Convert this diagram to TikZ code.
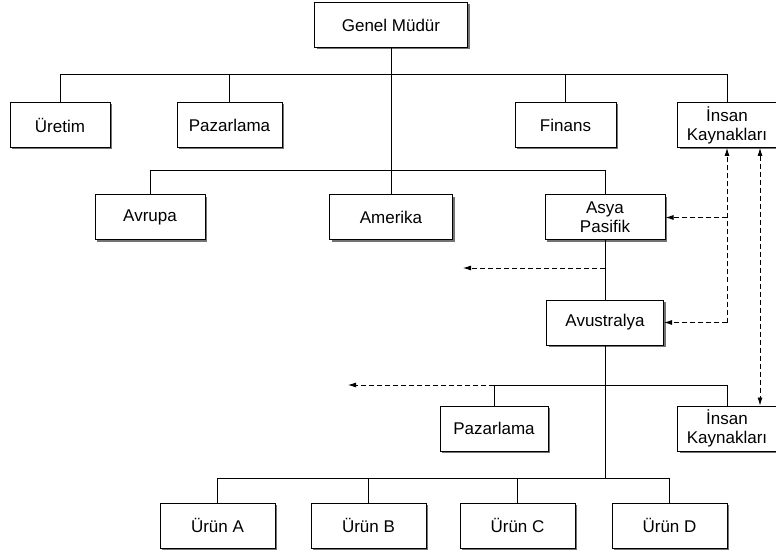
\documentclass[tikz,border=0pt]{standalone}
\usepackage{fontspec}
\setmainfont{Liberation Sans}
\usetikzlibrary{arrows.meta,shadows}

\begin{document}
\begin{tikzpicture}[x=1pt,y=-1pt,
    box/.style={draw,line width=1pt,fill=white,minimum height=45pt,inner sep=2pt,
      align=center,font=\fontsize{17}{19}\selectfont,
      drop shadow={shadow xshift=2pt,shadow yshift=-2pt,fill=black!55,opacity=1}},
    dsh/.style={line width=0.8pt,dash pattern=on 5pt off 3pt},
    tip/.style={arrows={-Latex[length=8pt,width=5pt]}}]
  \useasboundingbox (0,0) rectangle (776,553);
  % top level
  \node[box,minimum width=153pt] (gm) at (391,25) {Genel Müdür};
  \foreach \n/\t/\x/\w in {uret/Üretim/60/100,paz/Pazarlama/229.5/105,fin/Finans/565.5/101} {
      \node[box,minimum width=\w pt] (\n) at (\x,125) {\t};
    }
  \node[box,minimum width=99pt] (ik) at (727,125) {İnsan\\Kaynakları};
  % regions
  \node[box,minimum width=110pt] (avr) at (150,217.5) {Avrupa};
  \node[box,minimum width=123pt] (ame) at (391,217.5) {Amerika};
  \node[box,minimum width=120pt] (asya) at (605,217.5) {Asya\\Pasifik};
  \node[box,minimum width=117pt] (avu) at (605,322.5) {Avustralya};
  \node[box,minimum width=108pt] (paz2) at (494,428.5) {Pazarlama};
  \node[box,minimum width=99pt] (ik2) at (727,428.5) {İnsan\\Kaynakları};
  \foreach \n/\x in {A/217.5,B/368.5,C/517.5,D/669.5} {
      \node[box,minimum width=115pt] (ur\n) at (\x,525.5) {Ürün \n};
    }
  % buses
  \coordinate (bus1) at (391,74);
  \coordinate (bus2) at (391,170);
  \coordinate (bus3) at (605,385);
  \coordinate (bus4) at (605,478);
  \draw (gm) -- (ame);
  \draw (uret.north) -- (uret.north |- bus1) -- (ik.north |- bus1) -- (ik.north);
  \foreach \n in {paz,fin} \draw (\n.north) -- (\n.north |- bus1);
  \draw (avr.north) -- (avr.north |- bus2) -- (asya.north |- bus2) -- (asya.north);
  \draw (asya) -- (avu);
  \draw (paz2.north) -- (paz2.north |- bus3) -- (ik2.north |- bus3) -- (ik2.north);
  \draw (avu.south) -- (bus4);
  \draw (urA.north) -- (urA.north |- bus4) -- (urD.north |- bus4) -- (urD.north);
  \foreach \n in {urB,urC} \draw (\n.north) -- (\n.north |- bus4);
  % staff links
  \coordinate (d1) at (463,268);
  \coordinate (d2) at (348,385);
  \draw[dsh,tip] (asya.south |- d1) -- (d1);
  \draw[dsh,tip] (paz2.north |- bus3) -- (d2);
  \draw[dsh,tip] (ik.south |- avu.east) -- (ik.south);
  \draw[dsh,tip] (ik.south |- avu.east) -- (avu.east);
  \draw[dsh,tip] (ik.south |- asya.east) -- (asya.east);
  \draw[dsh,arrows={Latex[length=8pt,width=5pt]-Latex[length=8pt,width=5pt]}]
    ([xshift=33pt]ik.south) -- ([xshift=33pt]ik2.north);
\end{tikzpicture}
\end{document}
